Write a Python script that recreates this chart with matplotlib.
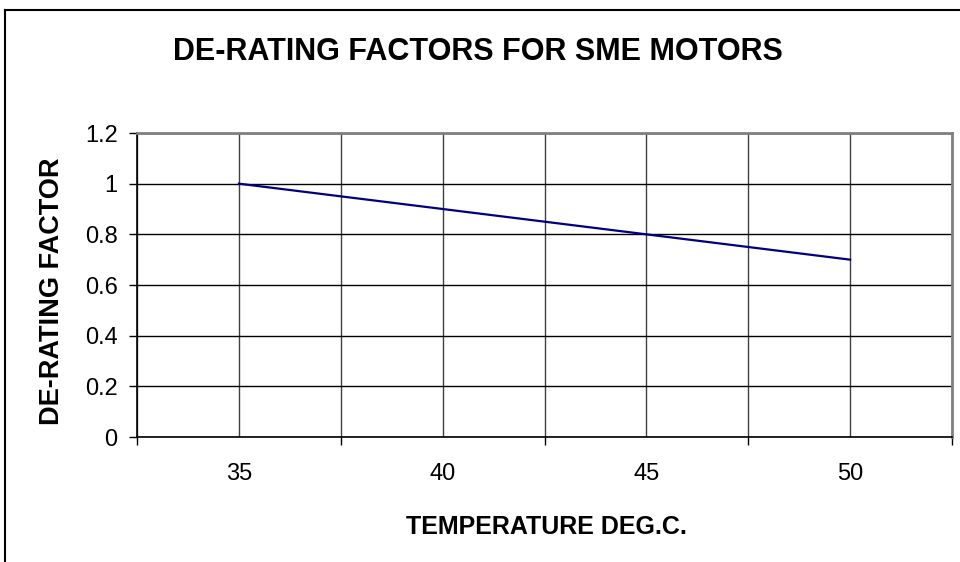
import matplotlib
matplotlib.use('Agg')
import matplotlib.pyplot as plt
from matplotlib.lines import Line2D

plt.rcParams['font.family'] = ['Liberation Sans', 'DejaVu Sans']

# data
temps = ['35', '40', '45', '50']
factors = [1.0, 0.9, 0.8, 0.7]
y_ticks = [0, 0.2, 0.4, 0.6, 0.8, 1.0, 1.2]
y_labels = ['0', '0.2', '0.4', '0.6', '0.8', '1', '1.2']

W, H = 960, 562
fig = plt.figure(figsize=(W / 100, H / 100), dpi=100)
ax = fig.add_axes([137 / W, 1 - 437 / H, (952 - 137) / W, (437 - 133) / H])

# categories sit between tick marks, like an excel line chart
xs = [i + 0.5 for i in range(len(temps))]
ax.plot(xs, factors, color='#000080', lw=1.6, zorder=3)

ax.set_xlim(0, len(temps))
ax.set_ylim(0, 1.2)

# vertical grid on boundaries and centres
for i in range(len(temps) + 1):
    ax.axvline(i, color='#404040', lw=1, zorder=1)
for x in xs:
    ax.axvline(x, color='#404040', lw=1, zorder=1)
for y in y_ticks:
    ax.axhline(y, color='black', lw=1, zorder=1)

ax.set_xticks(range(len(temps) + 1))
ax.set_xticklabels([''] * (len(temps) + 1))
ax.set_xticks(xs, minor=True)
ax.set_xticklabels(temps, minor=True)
ax.tick_params(axis='x', which='major', direction='out', length=6, width=1, color='black')
ax.tick_params(axis='x', which='minor', length=0, pad=19, labelsize=17)

ax.set_yticks(y_ticks)
ax.set_yticklabels(y_labels)
ax.tick_params(axis='y', direction='out', length=6, width=1, pad=8, labelsize=17)

for s in ['top', 'right']:
    ax.spines[s].set_color('#808080')
    ax.spines[s].set_linewidth(2)
for s in ['left', 'bottom']:
    ax.spines[s].set_color('black')
    ax.spines[s].set_linewidth(1.2)

fig.text(546 / W, 1 - 527 / H, 'TEMPERATURE DEG.C.', ha='center', va='center',
         fontsize=18, fontweight='bold')
fig.text(52 / W, 1 - 291 / H, 'DE-RATING FACTOR', ha='center', va='center',
         rotation=90, fontsize=19.5, fontweight='bold')
fig.text(478 / W, 1 - 52 / H, 'DE-RATING FACTORS FOR SME MOTORS',
         ha='center', va='center', fontsize=22, fontweight='bold')

# chart frame (cut off at right and bottom)
fig.add_artist(Line2D([5 / W, 5 / W], [0, 1 - 10 / H], color='black', lw=1.5, transform=fig.transFigure))
fig.add_artist(Line2D([5 / W, 1], [1 - 10 / H, 1 - 10 / H], color='black', lw=1.5, transform=fig.transFigure))

fig.savefig('out.png', dpi=100)
